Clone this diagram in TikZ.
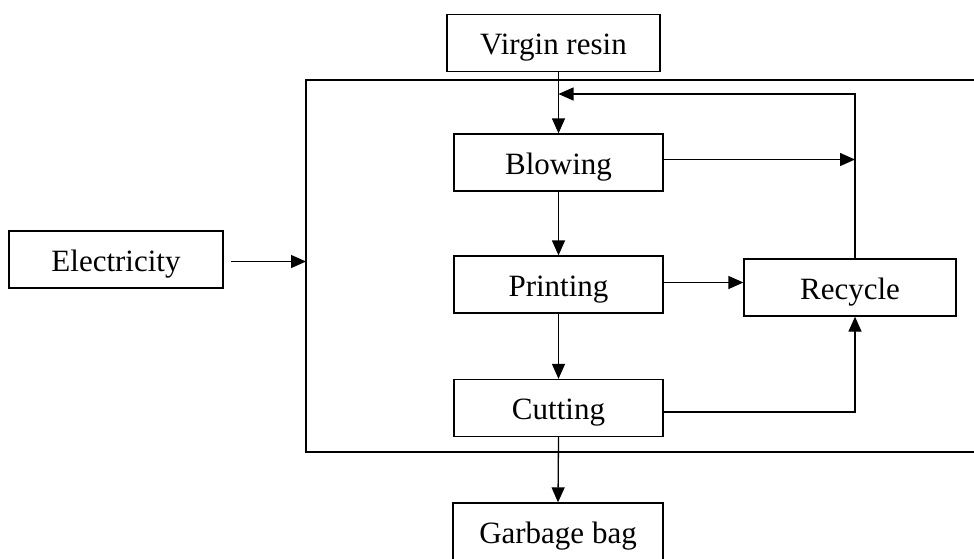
\documentclass[tikz,border=0pt]{standalone}
\usepackage{fontspec}
\setmainfont{Liberation Serif}
\usetikzlibrary{arrows.meta,calc}

\begin{document}
\begin{tikzpicture}[x=1pt,y=-1pt,
    box/.style={draw,line width=1.3pt,inner sep=0pt,minimum height=57pt,
      text height=23pt,text depth=0pt,
      font=\fontsize{31}{36}\selectfont},
    flow/.style={line width=1.3pt,-{Triangle[length=15pt,width=13pt]}}]
      \useasboundingbox (0,0) rectangle (974,558);
      \clip (0,0) rectangle (974,558);

      \node[box,minimum width=213pt] (vresin) at (553.5,43) {Virgin resin};
      \node[box,minimum width=209pt] (blowing) at (558.5,162.5) {Blowing};
      \node[box,minimum width=209pt] (printing) at (558.5,284.5) {Printing};
      \node[box,minimum width=209pt] (cutting) at (558.5,408) {Cutting};
      \node[box,minimum width=212pt] (recycle) at (850,287.5) {Recycle};
      \node[box,minimum width=214pt] (elec) at (116,259.5) {Electricity};
      \node[box,minimum width=210pt] (bag) at (558,531.5) {Garbage bag};

      \coordinate (frameL) at (306,80);
      \coordinate (rloop) at (855,94);

      % process boundary, open on the right
      \draw[line width=1.3pt] (1000,80) -- (frameL) -- (306,452) -- (1000,452);

      \draw[flow] (vresin.south -| blowing.north) -- (blowing.north);
      \draw[flow] (blowing.south) -- (printing.north);
      \draw[flow] (printing.south) -- (cutting.north);
      \draw[flow] (cutting.south) -- (bag.north);

      \draw[flow] ([yshift=3pt]blowing.east) -- ([yshift=3pt]blowing.east -| rloop);
      \draw[flow] ([yshift=2pt]printing.east) -- ([yshift=2pt]printing.east -| recycle.west);
      \draw[flow] ([yshift=-4pt]cutting.east) -| (rloop |- recycle.south);
      \draw[flow] (rloop |- recycle.north) -- (rloop) -- (rloop -| blowing.north);

      \draw[flow,shorten <=7pt] ([yshift=-2pt]elec.east) -- ([yshift=-2pt]elec.east -| frameL);
    \end{tikzpicture}
\end{document}
